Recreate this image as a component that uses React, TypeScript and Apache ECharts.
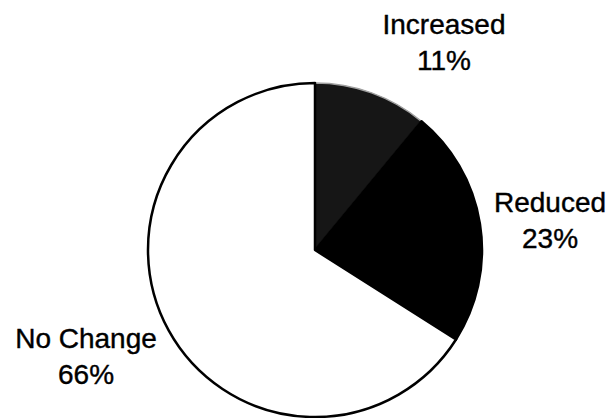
import React, { useEffect, useRef } from "react";
import * as echarts from "echarts";

const categories = ["Increased", "Reduced", "No Change"];
const values = [11, 23, 66];
const sliceColors = ["#161616", "#000000", "#ffffff"];
const labelSpots = [
  { x: 444, y: 42 },
  { x: 550, y: 220 },
  { x: 86, y: 356 },
];

export default function App() {
  const ref = useRef<HTMLDivElement>(null);
  useEffect(() => {
    if (!ref.current) return;
    const chart = echarts.init(ref.current, undefined, { renderer: "svg" });
    chart.setOption({
      animation: false,
      backgroundColor: "#ffffff",
      series: [
        {
          type: "pie",
          center: [315, 250],
          radius: 167,
          startAngle: 90,
          clockwise: true,
          avoidLabelOverlap: false,
          labelLine: { show: false },
          label: {
            show: true,
            position: "outside",
            formatter: "{b}\n{d}%",
            fontFamily: "Liberation Sans, Arial, sans-serif",
            fontSize: 28,
            lineHeight: 36,
            color: "#000",
            align: "center",
            textBorderColor: "#000",
            textBorderWidth: 0.4,
          },
          labelLayout: (p: any) => ({
            x: labelSpots[p.dataIndex].x,
            y: labelSpots[p.dataIndex].y,
            align: "center",
            verticalAlign: "middle",
          }),
          emphasis: { disabled: true },
          data: categories.map((name, i) => ({
            name,
            value: values[i],
            itemStyle: {
              color: sliceColors[i],
              borderColor: i === 0 ? "#a0a0a0" : "#000",
              borderWidth: i === 0 ? 1.5 : 2.5,
            },
          })),
        },
      ],
    });
    return () => chart.dispose();
  }, []);
  return (
    <div
      ref={ref}
      style={{ position: "fixed", left: 0, top: 0, width: 613, height: 418 }}
    />
  );
}
